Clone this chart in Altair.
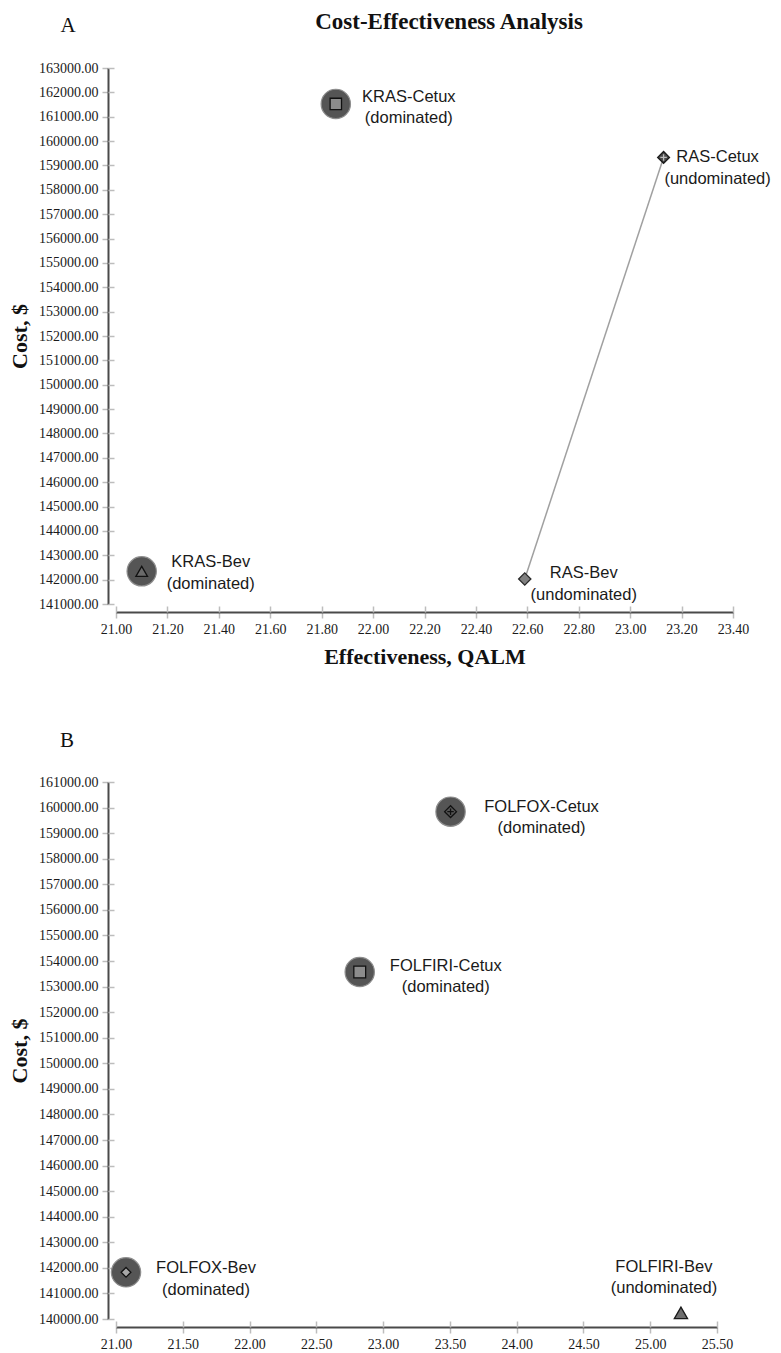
import altair as alt
import pandas as pd

# ---------------- data ----------------
A_NAMES = ["KRAS-Bev", "KRAS-Cetux", "RAS-Bev", "RAS-Cetux"]
A_EFFECT = [21.10, 21.855, 22.59, 23.13]
A_COST = [142340, 161525, 142025, 159330]
A_STATUS = ["dominated", "dominated", "undominated", "undominated"]

B_NAMES = ["FOLFOX-Bev", "FOLFOX-Cetux", "FOLFIRI-Bev", "FOLFIRI-Cetux"]
B_EFFECT = [21.075, 23.505, 25.23, 22.825]
B_COST = [141825, 159840, 140240, 153570]
B_STATUS = ["dominated", "dominated", "undominated", "dominated"]

A_X_TICKS = [21.0, 21.2, 21.4, 21.6, 21.8, 22.0, 22.2, 22.4, 22.6, 22.8, 23.0, 23.2, 23.4]
A_Y_TICKS = [141000, 142000, 143000, 144000, 145000, 146000, 147000, 148000,
             149000, 150000, 151000, 152000, 153000, 154000, 155000, 156000,
             157000, 158000, 159000, 160000, 161000, 162000, 163000]
B_X_TICKS = [21.0, 21.5, 22.0, 22.5, 23.0, 23.5, 24.0, 24.5, 25.0, 25.5]
B_Y_TICKS = [140000, 141000, 142000, 143000, 144000, 145000, 146000, 147000,
             148000, 149000, 150000, 151000, 152000, 153000, 154000, 155000,
             156000, 157000, 158000, 159000, 160000, 161000]

MAIN_TITLE = "Cost-Effectiveness Analysis"
X_TITLE = "Effectiveness, QALM"
Y_TITLE = "Cost, $"

# ---------------- styles ----------------
SERIF = "Liberation Serif"
SANS = "Liberation Sans"
CROSS = "M-0.55,0L0.55,0M0,-0.55L0,0.55"

INNER = {
    "KRAS-Bev": [("triangle-up", 135, "#6a6a6a", "#111111")],
    "KRAS-Cetux": [("square", 130, "#8c8c8c", "#111111")],
    "RAS-Bev": [("diamond", 150, "#808080", "#2a2a2a")],
    "RAS-Cetux": [("diamond", 140, "#4a4a4a", "#1a1a1a"), (CROSS, 140, None, "#bdbdbd")],
    "FOLFOX-Bev": [("diamond", 95, "#a8a8a8", "#111111")],
    "FOLFOX-Cetux": [("diamond", 140, "#555555", "#111111"), (CROSS, 140, None, "#111111")],
    "FOLFIRI-Bev": [("triangle-up", 175, "#6e6e6e", "#1a1a1a")],
    "FOLFIRI-Cetux": [("square", 140, "#8c8c8c", "#111111")],
}

# label offsets (dx, dy) from marker centre to the first line of the two-line label
LABEL_OFFSET = {
    "KRAS-Bev": (69, -9), "KRAS-Cetux": (73, -7), "RAS-Bev": (59, -6), "RAS-Cetux": (54, 0),
    "FOLFOX-Bev": (80, -4), "FOLFOX-Cetux": (91, -5), "FOLFIRI-Bev": (-17, -46),
    "FOLFIRI-Cetux": (86, -6),
}


def panel(names, eff, cost, status, xticks, yticks, width, height, xtitle,
          letter, letter_xy, main_title=None, title_xy=None):
    df = pd.DataFrame({"name": names, "effect": eff, "cost": cost, "status": status})
    df["label"] = df["name"] + "\n(" + df["status"] + ")"
    xs = alt.Scale(domain=[xticks[0], xticks[-1]], nice=False, zero=False)
    ys = alt.Scale(domain=[yticks[0], yticks[-1]], nice=False, zero=False)

    common = dict(grid=False, tickColor="#bdbdbd", tickWidth=1.5, tickSize=6)
    xkw = dict(values=xticks, format=".2f", offset=8, domainColor="#4a4a4a",
               domainWidth=2, labelFont=SERIF, labelFontSize=14, labelColor="#1a1a1a",
               labelPadding=4, labelFlush=False, labelOverlap=False,
               titleFont=SERIF, titleFontSize=22, titleFontWeight="bold",
               titleColor="#111111", titlePadding=10, **common)
    if xtitle:
        main_x = alt.Axis(title=xtitle, **xkw)
    else:
        main_x = alt.Axis(title=None, **xkw)
    main_y = alt.Axis(values=yticks, format=".2f", offset=8, domainColor="#4a4a4a",
                      domainWidth=2, labelFont=SERIF, labelFontSize=14,
                      labelColor="#1a1a1a", labelPadding=4, labelOverlap=False,
                      title=Y_TITLE, titleFont=SERIF, titleFontSize=22,
                      titleFontWeight="bold", titleColor="#111111", titlePadding=7,
                      **common)
    sec_x = alt.Axis(values=xticks, orient="bottom", offset=2, labels=False,
                     domain=False, title=None, **common)
    sec_y = alt.Axis(values=yticks, orient="left", offset=2, labels=False,
                     domain=False, title=None, **common)

    def X(axis=None):
        return alt.X("effect:Q", scale=xs, axis=axis)

    def Y(axis=None):
        return alt.Y("cost:Q", scale=ys, axis=axis)

    base = alt.Chart(df)
    layers = [
        base.mark_point(opacity=0).encode(x=X(main_x), y=Y(main_y)),
        base.mark_point(opacity=0).encode(x=X(sec_x), y=Y(sec_y)),
    ]
    und = df[df["status"] == "undominated"]
    if len(und) > 1:
        layers.append(
            base.mark_line(color="#a0a0a0", strokeWidth=1.5)
            .transform_filter(alt.datum.status == "undominated")
            .encode(x=X(), y=Y(), order="effect:Q")
        )
    layers.append(
        base.mark_point(shape="circle", size=860, filled=True, fill="#555555",
                        stroke="#8e8e8e", strokeWidth=1.2, opacity=1)
        .transform_filter(alt.datum.status == "dominated")
        .encode(x=X(), y=Y())
    )
    for n in names:
        for shape, size, fill, stroke in INNER[n]:
            if fill:
                mk = base.mark_point(shape=shape, size=size, filled=True, fill=fill,
                                     stroke=stroke, strokeWidth=1.3, opacity=1)
            else:
                mk = base.mark_point(shape=shape, size=size, filled=False,
                                     stroke=stroke, strokeWidth=1.3, opacity=1)
            layers.append(mk.transform_filter(alt.datum.name == n).encode(x=X(), y=Y()))
        dx, dy = LABEL_OFFSET[n]
        layers.append(
            base.mark_text(align="center", baseline="middle", lineBreak="\n",
                           lineHeight=21.5, font=SANS, fontSize=16.5, color="#1a1a1a",
                           dx=dx, dy=dy)
            .transform_filter(alt.datum.name == n)
            .encode(x=X(), y=Y(), text="label:N")
        )
    layers.append(
        alt.Chart(alt.Data(values=[{"t": letter}]))
        .mark_text(font=SERIF, fontSize=21, color="#111111", align="center",
                   baseline="middle")
        .encode(x=alt.value(letter_xy[0]), y=alt.value(letter_xy[1]), text="t:N")
    )
    if main_title:
        layers.append(
            alt.Chart(alt.Data(values=[{"t": main_title}]))
            .mark_text(font=SERIF, fontSize=23, fontWeight="bold", color="#111111",
                       align="center", baseline="middle")
            .encode(x=alt.value(title_xy[0]), y=alt.value(title_xy[1]), text="t:N")
        )
    return (
        alt.layer(*layers)
        .properties(width=width, height=height)
        .resolve_axis(x="independent", y="independent")
    )


panel_a = panel(A_NAMES, A_EFFECT, A_COST, A_STATUS, A_X_TICKS, A_Y_TICKS, 617, 536,
                X_TITLE, "A", (-48, -42), MAIN_TITLE, (333, -46))
panel_b = panel(B_NAMES, B_EFFECT, B_COST, B_STATUS, B_X_TICKS, B_Y_TICKS, 601, 537,
                None, "B", (-49, -41))

chart = (
    alt.vconcat(panel_a, panel_b, spacing=63)
    .configure_view(stroke=None)
    .properties(background="white",
                padding={"left": 0, "top": 3, "right": 0, "bottom": 0})
)

chart.save("out.html", embed_options={"renderer": "svg", "actions": False})
